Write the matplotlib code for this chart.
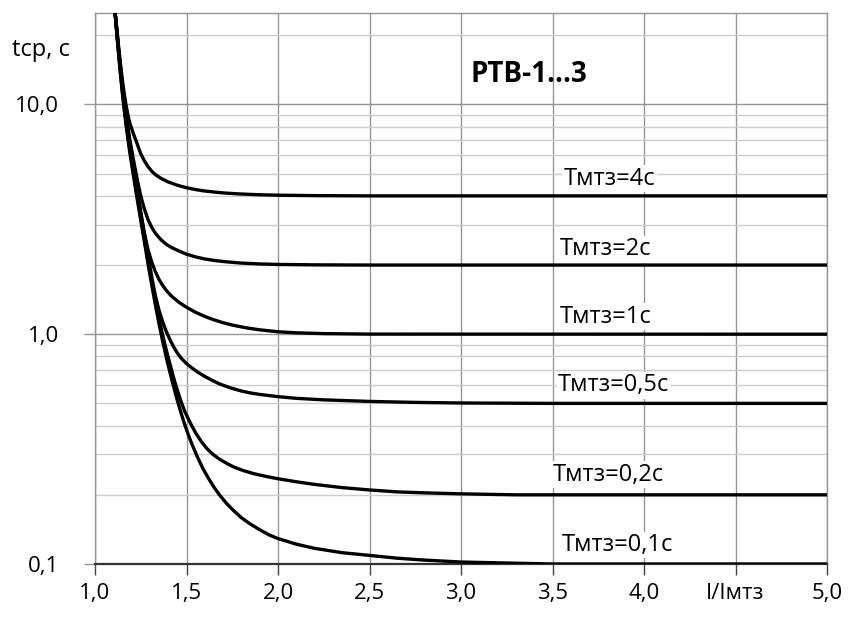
import matplotlib.pyplot as plt
from matplotlib.ticker import FixedLocator, NullFormatter

plt.rcParams['font.family'] = ['Open Sans', 'DejaVu Sans']

# Характеристики РТВ-1...3, значения
x_4 = [1.11, 1.12, 1.13, 1.14, 1.15, 1.16, 1.17, 1.18, 1.19, 1.21, 1.23, 1.25, 1.27,
       1.29, 1.31, 1.33, 1.36, 1.40, 1.45, 1.50, 1.55, 1.60, 1.66, 1.72, 1.80, 1.90,
       2.00, 2.20, 2.50, 5.00]
t_4 = [25, 21.0, 17.5, 14.8, 12.7, 11.1, 9.9, 9.0, 8.3, 7.45, 6.75, 6.1, 5.68,
       5.36, 5.12, 4.95, 4.77, 4.60, 4.45, 4.34, 4.26, 4.20, 4.15, 4.11, 4.075, 4.045,
       4.028, 4.01, 4.0, 4.0]

x_2 = [1.11, 1.12, 1.13, 1.14, 1.15, 1.16, 1.17, 1.18, 1.19, 1.21, 1.23, 1.25, 1.27,
       1.29, 1.31, 1.33, 1.36, 1.39, 1.42, 1.46, 1.50, 1.55, 1.60, 1.66, 1.72, 1.80,
       1.90, 2.00, 2.20, 2.50, 5.00]
t_2 = [25, 20.8, 17.1, 14.3, 12.1, 10.4, 9.0, 7.95, 7.05, 5.75, 4.75, 4.0, 3.5,
       3.15, 2.92, 2.75, 2.58, 2.46, 2.38, 2.30, 2.23, 2.17, 2.125, 2.09, 2.065, 2.04,
       2.022, 2.012, 2.004, 2.0, 2.0]

x_1 = [1.11, 1.12, 1.13, 1.14, 1.15, 1.16, 1.17, 1.18, 1.19, 1.21, 1.23, 1.25, 1.27,
       1.29, 1.31, 1.33, 1.35, 1.37, 1.39, 1.42, 1.46, 1.50, 1.55, 1.60, 1.65, 1.70,
       1.76, 1.83, 1.90, 2.00, 2.10, 2.25, 2.50, 5.00]
t_1 = [25, 20.6, 16.9, 14.1, 11.9, 10.1, 8.75, 7.7, 6.8, 5.4, 4.35, 3.4, 2.75,
       2.33, 2.06, 1.87, 1.73, 1.63, 1.55, 1.46, 1.375, 1.31, 1.245, 1.195, 1.155, 1.122,
       1.092, 1.065, 1.045, 1.025, 1.014, 1.006, 1.001, 1.0]

x_05 = [1.11, 1.12, 1.13, 1.14, 1.15, 1.16, 1.17, 1.18, 1.19, 1.21, 1.23, 1.25, 1.27,
        1.29, 1.31, 1.33, 1.35, 1.37, 1.39, 1.41, 1.43, 1.45, 1.47, 1.50, 1.53, 1.56,
        1.60, 1.64, 1.68, 1.74, 1.80, 1.85, 1.90, 2.00, 2.10, 2.25, 2.50, 2.75, 3.00,
        3.50, 5.00]
t_05 = [25, 20.4, 16.7, 13.9, 11.7, 9.9, 8.55, 7.5, 6.6, 5.2, 4.15, 3.35, 2.72,
        2.2, 1.78, 1.47, 1.27, 1.13, 1.025, 0.945, 0.88, 0.828, 0.788, 0.745, 0.713, 0.685,
        0.655, 0.63, 0.608, 0.584, 0.566, 0.555, 0.547, 0.535, 0.526, 0.518, 0.51, 0.505, 0.502,
        0.5, 0.5]

x_02 = [1.11, 1.12, 1.13, 1.14, 1.15, 1.16, 1.17, 1.18, 1.19, 1.21, 1.23, 1.25, 1.27,
        1.29, 1.31, 1.33, 1.35, 1.37, 1.39, 1.41, 1.43, 1.45, 1.47, 1.49, 1.52, 1.55,
        1.58, 1.61, 1.64, 1.68, 1.72, 1.76, 1.81, 1.87, 1.94, 2.00, 2.10, 2.20, 2.35,
        2.50, 2.65, 2.80, 3.00, 3.30, 5.00]
t_02 = [25, 20.2, 16.5, 13.6, 11.4, 9.7, 8.35, 7.3, 6.4, 5.05, 4.02, 3.23, 2.6,
        2.1, 1.7, 1.40, 1.17, 0.99, 0.85, 0.74, 0.645, 0.57, 0.51, 0.462, 0.412, 0.372,
        0.342, 0.319, 0.302, 0.286, 0.274, 0.264, 0.255, 0.247, 0.240, 0.235, 0.228, 0.222, 0.215,
        0.210, 0.206, 0.204, 0.202, 0.2, 0.2]

x_01 = [1.11, 1.12, 1.13, 1.14, 1.15, 1.16, 1.17, 1.18, 1.19, 1.21, 1.23, 1.25, 1.27,
        1.29, 1.31, 1.33, 1.35, 1.37, 1.39, 1.41, 1.43, 1.45, 1.47, 1.49, 1.51, 1.53,
        1.56, 1.59, 1.62, 1.65, 1.68, 1.72, 1.76, 1.80, 1.85, 1.90, 1.95, 2.00, 2.10,
        2.20, 2.35, 2.50, 2.65, 2.80, 3.00, 3.25, 3.50, 5.00]
t_01 = [25, 20.0, 16.2, 13.3, 11.1, 9.4, 8.1, 7.05, 6.2, 4.9, 3.9, 3.13, 2.52,
        2.02, 1.64, 1.34, 1.11, 0.93, 0.79, 0.68, 0.59, 0.515, 0.455, 0.405, 0.365, 0.332,
        0.292, 0.260, 0.236, 0.216, 0.200, 0.183, 0.170, 0.159, 0.149, 0.141, 0.134, 0.129, 0.122,
        0.117, 0.112, 0.109, 0.106, 0.104, 0.102, 0.101, 0.1, 0.1]

curves = [(x_4, t_4), (x_2, t_2), (x_1, t_1), (x_05, t_05), (x_02, t_02), (x_01, t_01)]
curve_labels = ['Тмтз=4с', 'Тмтз=2с', 'Тмтз=1с', 'Тмтз=0,5с', 'Тмтз=0,2с', 'Тмтз=0,1с']
label_pos = [(3.56, 4.75), (3.54, 2.34), (3.54, 1.19), (3.53, 0.60), (3.50, 0.245), (3.55, 0.121)]

x_ticks = [1.0, 1.5, 2.0, 2.5, 3.0, 3.5, 4.0, 4.5, 5.0]
x_ticklabels = ['1,0', '1,5', '2,0', '2,5', '3,0', '3,5', '4,0', 'I/Iмтз', '5,0']
y_ticks = [0.1, 1, 10]
y_ticklabels = ['0,1', '1,0', '10,0']
y_minor = [m * d for d in (0.1, 1, 10) for m in range(2, 10)]

fig = plt.figure(figsize=(8.48, 6.19), dpi=100)
ax = fig.add_axes([95 / 848, 1 - 564 / 619, 732 / 848, 551 / 619])
ax.set_yscale('log')
ax.set_xlim(1, 5)
ax.set_ylim(0.1, 25)

ax.set_xticks(x_ticks)
ax.set_xticklabels(x_ticklabels)
ax.set_yticks(y_ticks)
ax.set_yticklabels(y_ticklabels)
ax.yaxis.set_minor_locator(FixedLocator(y_minor))
ax.yaxis.set_minor_formatter(NullFormatter())

ax.grid(axis='x', which='major', color='#959595', lw=1)
ax.grid(axis='y', which='major', color='#959595', lw=1)
ax.grid(axis='y', which='minor', color='#cccccc', lw=1)
ax.set_axisbelow(True)

ax.tick_params(axis='x', which='major', direction='out', length=8, width=1,
               color='#444444', labelsize=16, pad=6)
ax.tick_params(axis='y', which='major', direction='out', length=8, width=1,
               color='#959595', labelsize=16, pad=18)
ax.tick_params(axis='y', which='minor', length=0)

for side in ['left', 'top', 'right']:
    ax.spines[side].set_color('#959595')
    ax.spines[side].set_linewidth(1)
ax.spines['bottom'].set_color('#333333')
ax.spines['bottom'].set_linewidth(1.6)

for (xs, ts) in curves:
    ax.plot(xs, ts, color='black', lw=2.4, solid_joinstyle='round', zorder=3)

for lab, (lx, ly) in zip(curve_labels, label_pos):
    ax.text(lx, ly, lab, fontsize=17, ha='left', va='center', zorder=4,
            bbox=dict(facecolor='white', edgecolor='none', pad=1))

ax.text(3.05, 13.5, 'РТВ-1...3', fontsize=20, fontweight='bold', ha='left', va='center')
fig.text(12 / 848, 1 - 50 / 619, 'tср, с', fontsize=17, ha='left', va='center')

fig.savefig('out.png', dpi=100)
